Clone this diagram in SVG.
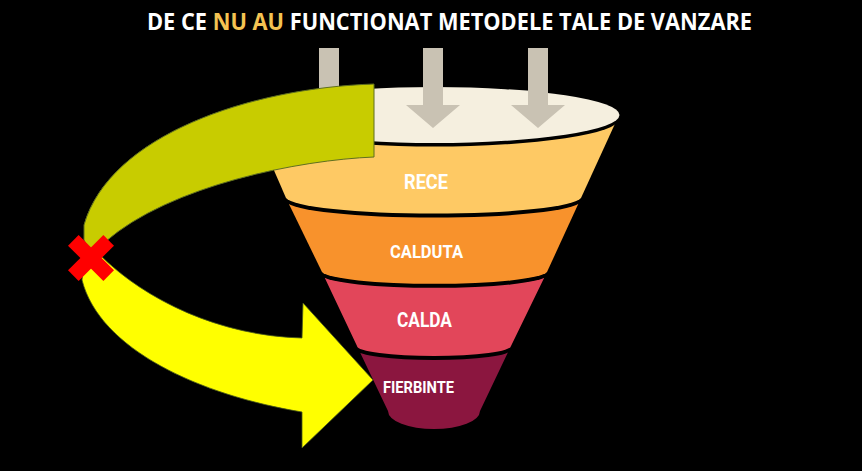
<svg xmlns="http://www.w3.org/2000/svg" width="862" height="471" viewBox="0 0 862 471">
<defs>
<style>
.title{font-family:"Open Sans","Liberation Sans",sans-serif;font-weight:bold;font-size:22.5px;fill:#ffffff}
.gold{fill:#F4C352}
.lbl{font-family:Roboto,"Liberation Sans",sans-serif;font-weight:bold;fill:#ffffff;text-anchor:middle}
.shadow{fill:#000000}
.garrow{fill:#C9C2B3}
</style>
</defs>
<rect x="0" y="0" width="862" height="471" fill="#000000"/>
<g id="title">
<text class="title" x="449.5" y="30" text-anchor="middle" textLength="605" lengthAdjust="spacingAndGlyphs">DE CE <tspan class="gold">NU AU</tspan> FUNCTIONAT METODELE TALE DE VANZARE</text>
</g>
<g id="funnel">
<g id="fierbinte">
<path d="M357,346 L388,411 A46,18 0 0 0 480,411 L511,346 Z" fill="#8B163F"/>
</g>
<g id="calda">
<path class="shadow" d="M322,276 L357,350 A77,10 0 0 0 511,350 L547,276 Z"/>
<path d="M322,272 L357,346 A77,10 0 0 0 511,346 L547,272 Z" fill="#E2465A"/>
</g>
<g id="calduta">
<path class="shadow" d="M286,202 L322,276 A113,13 0 0 0 547,276 L581,202 Z"/>
<path d="M286,198 L322,272 A113,13 0 0 0 547,272 L581,198 Z" fill="#F8922C"/>
</g>
<g id="rece">
<path class="shadow" d="M250,119 L286,202 A148,17 0 0 0 581,202 L619,119 Z"/>
<path d="M250,115 L286,198 A148,17 0 0 0 581,198 L619,115 Z" fill="#FEC964"/>
</g>
<g id="rim">
<ellipse cx="434.5" cy="118.5" rx="185" ry="28" class="shadow"/>
<ellipse cx="434.5" cy="115" rx="185" ry="28" fill="#F5EFDF"/>
</g>
</g>
<g id="inputs">
<path class="garrow" d="M319,48 H339 V105 H356 L329,128 L302,105 H319 Z"/>
<path class="garrow" d="M423,48 H443 V105 H460 L433,128 L406,105 H423 Z"/>
<path class="garrow" d="M528,48 H548 V105 H565 L538,128 L511,105 H528 Z"/>
</g>
<g id="connectors">
<path id="green-path" d="M374,84 L374,157 C 300,160 170,185 105,242 L92,256 L84,240 L84,225 C 110,135 250,88 374,84 Z" fill="#C8CC00" stroke="#5F6F1F" stroke-width="1"/>
<path id="yellow-arrow" d="M100,255 C 145,300 220,336 302,338 L303,303 L373,380 L302,448 L302,412 C 200,395 100,350 82,280 L85,255 Z" fill="#FFFF00" stroke="#4A5A1A" stroke-width="0.8"/>
<g id="red-x" transform="translate(91,258) rotate(45)" fill="#FF0000">
<rect x="-25" y="-7.5" width="50" height="15"/>
<rect x="-7.5" y="-25" width="15" height="50"/>
</g>
</g>
<g id="labels">
<text class="lbl" x="426" y="189" font-size="19.5" textLength="44" lengthAdjust="spacingAndGlyphs">RECE</text>
<text class="lbl" x="426.5" y="258" font-size="18.5" textLength="73" lengthAdjust="spacingAndGlyphs">CALDUTA</text>
<text class="lbl" x="424.5" y="327" font-size="19.5" textLength="55" lengthAdjust="spacingAndGlyphs">CALDA</text>
<text class="lbl" x="418.5" y="393" font-size="16.5" textLength="71" lengthAdjust="spacingAndGlyphs">FIERBINTE</text>
</g>
</svg>
